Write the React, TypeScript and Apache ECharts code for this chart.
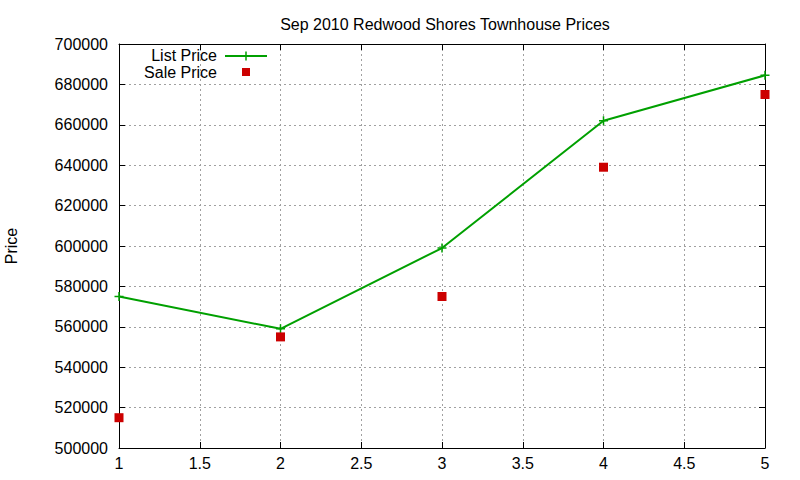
import React, { useEffect, useRef } from 'react';
import * as echarts from 'echarts';

// values
const xValues = [1, 2, 3, 4, 5];
const listPrice = [575000, 559000, 599000, 662000, 684500];
const salePrice = [515000, 555000, 575000, 639000, 675000];

const titleText = 'Sep 2010 Redwood Shores Townhouse Prices';
const yAxisName = 'Price';
const legendNames = ['List Price', 'Sale Price'];

const GREEN = '#00a000';
const RED = '#cc0000';
const FONT = '"Liberation Sans", Arial, sans-serif';

const App: React.FC = () => {
  const chartRef = useRef<HTMLDivElement>(null);

  useEffect(() => {
    if (!chartRef.current) return;
    const chart = echarts.init(chartRef.current, undefined, { renderer: 'svg' });

    const tickStyle = { inside: true, length: 6, lineStyle: { color: '#000', width: 1 } };
    const axisLine = { show: true, onZero: false, lineStyle: { color: '#000', width: 1 } };
    const gridLine = { show: true, lineStyle: { color: '#a0a0a0', width: 1, type: [2, 3] as any } };

    const option: any = {
      animation: false,
      backgroundColor: '#fff',
      textStyle: { fontFamily: FONT },
      title: {
        text: titleText,
        left: 440,
        top: 11,
        textAlign: 'center',
        textStyle: { fontSize: 16, fontWeight: 'normal', color: '#000', fontFamily: FONT },
      },
      grid: { left: 119, right: 35, top: 44, bottom: 32, containLabel: false, outerBoundsMode: 'none' },
      xAxis: [
        {
          type: 'value',
          min: 1,
          max: 5,
          interval: 0.5,
          axisLine,
          axisTick: tickStyle,
          splitLine: gridLine,
          axisLabel: { color: '#000', fontSize: 16, fontFamily: FONT, margin: 7 },
        },
        {
          type: 'value',
          position: 'top',
          min: 1,
          max: 5,
          interval: 0.5,
          axisLine,
          axisTick: tickStyle,
          splitLine: { show: false },
          axisLabel: { show: false },
        },
      ],
      yAxis: [
        {
          type: 'value',
          min: 500000,
          max: 700000,
          interval: 20000,
          name: yAxisName,
          nameLocation: 'middle',
          nameGap: 100,
          nameTextStyle: { color: '#000', fontSize: 16, fontFamily: FONT },
          axisLine,
          axisTick: tickStyle,
          splitLine: gridLine,
          axisLabel: {
            color: '#000',
            fontSize: 16,
            fontFamily: FONT,
            margin: 11,
            formatter: (v: number) => String(v),
          },
        },
        {
          type: 'value',
          position: 'right',
          min: 500000,
          max: 700000,
          interval: 20000,
          axisLine,
          axisTick: tickStyle,
          splitLine: { show: false },
          axisLabel: { show: false },
        },
      ],
      series: [
        {
          name: legendNames[0],
          type: 'line',
          data: xValues.map((x, i) => [x, listPrice[i]]),
          symbol: 'path://M5,0 L5,10 M0,5 L10,5',
          symbolSize: 9,
          showAllSymbol: true,
          clip: false,
          lineStyle: { color: GREEN, width: 2 },
          itemStyle: { color: GREEN, borderColor: GREEN, borderWidth: 1.5 },
          z: 3,
        },
        {
          name: legendNames[1],
          type: 'scatter',
          data: xValues.map((x, i) => [x, salePrice[i]]),
          symbol: 'rect',
          symbolSize: 9,
          clip: false,
          itemStyle: { color: RED, opacity: 1 },
          z: 4,
        },
      ],
      graphic: [
        {
          type: 'text',
          x: 217,
          y: 55,
          style: {
            text: legendNames[0],
            fill: '#000',
            font: `16px ${FONT}`,
            textAlign: 'right',
            textVerticalAlign: 'middle',
          },
        },
        {
          type: 'line',
          shape: { x1: 225, y1: 56, x2: 267, y2: 56 },
          style: { stroke: GREEN, lineWidth: 2 },
        },
        {
          type: 'line',
          shape: { x1: 246, y1: 51.5, x2: 246, y2: 60.5 },
          style: { stroke: GREEN, lineWidth: 1.5 },
        },
        {
          type: 'text',
          x: 217,
          y: 72,
          style: {
            text: legendNames[1],
            fill: '#000',
            font: `16px ${FONT}`,
            textAlign: 'right',
            textVerticalAlign: 'middle',
          },
        },
        {
          type: 'rect',
          shape: { x: 242, y: 68, width: 8, height: 8 },
          style: { fill: RED },
        },
      ],
    };

    chart.setOption(option);
    return () => {
      chart.dispose();
    };
  }, []);

  return (
    <div
      ref={chartRef}
      style={{ position: 'fixed', left: 0, top: 0, width: 800, height: 480, background: '#fff' }}
    />
  );
};

export default App;
